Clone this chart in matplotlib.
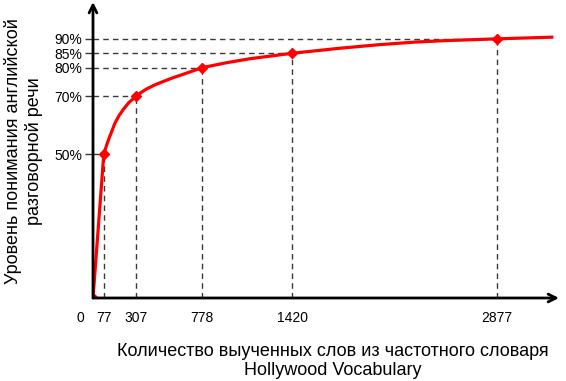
import matplotlib
matplotlib.use("Agg")
import matplotlib.pyplot as plt
from matplotlib.transforms import ScaledTranslation

plt.rcParams['font.family'] = ['Liberation Sans', 'DejaVu Sans']

# key points (words learned, comprehension %)
words = [0, 77, 307, 778, 1420, 2877]
levels = [0, 50, 70, 80, 85, 90]
x_labels = ["0", "77", "307", "778", "1420", "2877"]
y_ticks = [50, 70, 80, 85, 90]
y_labels = ["50%", "70%", "80%", "85%", "90%"]

# curve
curve_x = [0, 77, 100, 121, 157, 185, 216, 256, 307, 340, 382, 440, 501, 570, 643,
           778, 950, 1118, 1420, 1750, 2044, 2300, 2519, 2877, 3280]
curve_y = [0, 50, 53.5, 56.3, 60.8, 63.3, 65.5, 67.9, 70, 71.3, 72.6, 74, 75.2, 76.5, 77.7,
           80, 81.7, 83.1, 85, 86.7, 88.0, 88.9, 89.4, 90, 90.6]

W, H = 566, 381
fig = plt.figure(figsize=(W / 100, H / 100), dpi=100)
ax = fig.add_axes([93 / W, 1 - 298 / H, (559 - 93) / W, (298 - 2) / H])
ax.set_xlim(0, 3320)
ax.set_ylim(0, 102.8)
for s in ax.spines.values():
    s.set_visible(False)

dash_kw = dict(color='#3a3a3a', lw=1, dashes=(4, 3), zorder=1)
for xv, yv in zip(words[1:], levels[1:]):
    ax.plot([xv, xv], [0, yv], **dash_kw)
    ax.plot([0, xv], [yv, yv], **dash_kw)

ax.plot(curve_x, curve_y, color='#ff0000', lw=2.3, zorder=3,
        solid_capstyle='butt', solid_joinstyle='round')
ax.plot(words, levels, linestyle='none', marker='D', ms=5.2, color='#ff0000',
        mec='#ff0000', mew=1, zorder=4)

# axes with arrows
ax.annotate('', xy=(1, 0), xytext=(0, 0), xycoords='axes fraction',
            arrowprops=dict(arrowstyle='->', lw=2, color='black', mutation_scale=14,
                            shrinkA=0, shrinkB=0), zorder=5)
ax.annotate('', xy=(0, 1), xytext=(0, 0), xycoords='axes fraction',
            arrowprops=dict(arrowstyle='->', lw=2, color='black', mutation_scale=14,
                            shrinkA=0, shrinkB=0), zorder=5)

ax.set_xticks(words)
ax.set_xticklabels(x_labels, fontsize=10)
ax.tick_params(axis='x', length=0, pad=9)
lbl0 = ax.get_xticklabels()[0]
lbl0.set_transform(lbl0.get_transform() + ScaledTranslation(-13 / 100, 0, fig.dpi_scale_trans))

ax.set_yticks(y_ticks)
ax.set_yticklabels(y_labels, fontsize=10)
ax.tick_params(axis='y', length=6, width=1, pad=1.5, color='#3a3a3a')

fig.text(333 / W, 1 - 361 / H, "Количество выученных слов из частотного словаря\nHollywood Vocabulary",
         ha='center', va='center', fontsize=13, linespacing=1.2)
fig.text(23.5 / W, 1 - 151 / H, "Уровень понимания английской\nразговорной речи",
         ha='center', va='center', rotation=90, fontsize=13, linespacing=1.2)

fig.savefig('out.png', dpi=100)
